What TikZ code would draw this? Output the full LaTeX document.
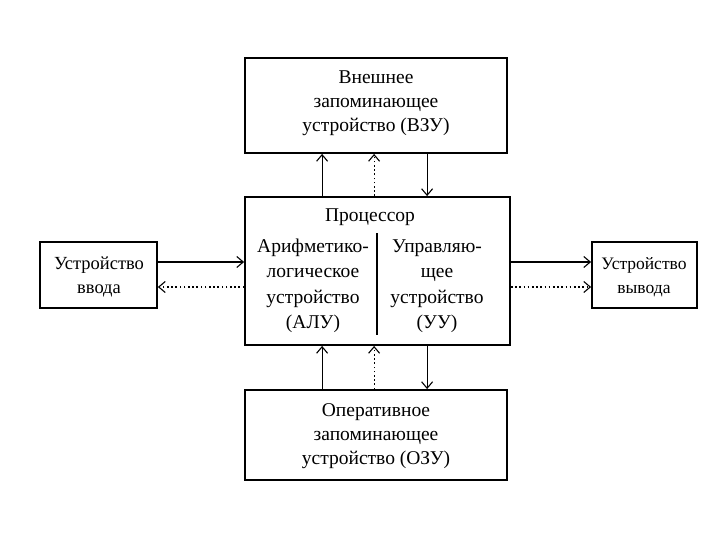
\documentclass[tikz,border=0pt]{standalone}
\usepackage{fontspec}
\setmainfont{Liberation Serif}
\usetikzlibrary{arrows.meta}
\begin{document}
\begin{tikzpicture}[x=1pt,y=-1pt,
  box/.style={draw,line width=1.8pt,minimum width=#1,inner sep=0pt},
  txt/.style={font=\fontsize{19.5}{24}\selectfont,align=center,inner sep=0pt},
  arr/.style={line width=1.1pt,-{Straight Barb[length=6.5pt,width=11pt,line width=1.1pt]}},
  dot/.style={arr,dash pattern=on 1.6pt off 2.6pt}]
\useasboundingbox (0,0) rectangle (720,540);
\fill[white] (0,0) rectangle (720,540);
% boxes
\node[box=262pt,minimum height=95pt] (vzu) at (376,105.5) {};
\node[box=265pt,minimum height=148pt] (cpu) at (377.5,271) {};
\node[box=262pt,minimum height=90pt] (ozu) at (376,435) {};
\node[box=117pt,minimum height=66pt] (in) at (98.5,275) {};
\node[box=105pt,minimum height=66pt] (out) at (644.5,275) {};
% texts
\node[txt] (tvzu) at (376,103) {Внешнее\\запоминающее\\устройство (ВЗУ)};
\node[txt] (tozu) at (376,436) {Оперативное\\запоминающее\\устройство (ОЗУ)};
\node[txt] (tcpu) at (370,217) {Процессор};
\node[txt,font=\fontsize{19.5}{25.5}\selectfont] (talu) at (313,286) {Арифметико-\\логическое\\устройство\\(АЛУ)};
\node[txt,font=\fontsize{19.5}{25.5}\selectfont] (tuu) at (437,286) {Управляю-\\щее\\устройство\\(УУ)};
\node[txt,font=\fontsize{18.5}{24}\selectfont] (tin) at (99,277) {Устройство\\ввода};
\node[txt,font=\fontsize{17.5}{24}\selectfont] (tout) at (644,277) {Устройство\\вывода};
% divider
\coordinate (d1) at (377,233);
\coordinate (d2) at (377,335);
\draw[line width=1.4pt] (d1) -- (d2);
% vertical connectors
\draw[arr] ([xshift=78pt]cpu.north west) -- ([xshift=78pt]vzu.south west);
\draw[dot] ([xshift=130pt]cpu.north west) -- ([xshift=130pt]vzu.south west);
\draw[arr] ([xshift=183pt]vzu.south west) -- ([xshift=183pt]cpu.north west);
\draw[arr] ([xshift=78pt]ozu.north west) -- ([xshift=78pt]cpu.south west);
\draw[dot] ([xshift=130pt]ozu.north west) -- ([xshift=130pt]cpu.south west);
\draw[arr] ([xshift=183pt]cpu.south west) -- ([xshift=183pt]ozu.north west);
% horizontal connectors
\coordinate (i1) at ([yshift=13pt]in.east);
\coordinate (i2) at ([yshift=-12pt]in.east);
\coordinate (o1) at ([yshift=13pt]out.west);
\coordinate (o2) at ([yshift=-12pt]out.west);
\draw[arr] (i1) -- (i1 -| cpu.west);
\draw[dot] (i2 -| cpu.west) -- (i2);
\draw[arr] (o1 -| cpu.east) -- (o1);
\draw[dot] (o2 -| cpu.east) -- (o2);
\end{tikzpicture}
\end{document}
